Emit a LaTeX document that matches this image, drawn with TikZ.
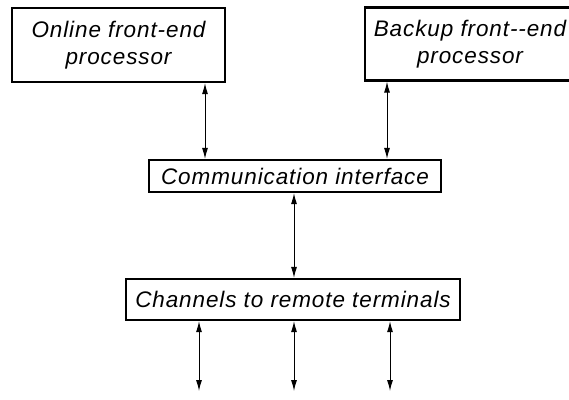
\documentclass[tikz,border=0pt]{standalone}
\usepackage{fontspec}
\setmainfont{Liberation Sans}[ItalicFont=* Italic, LetterSpace=4]
\usetikzlibrary{arrows.meta}
\tikzset{
  box/.style={draw, line width=2.2pt, rectangle, inner sep=0pt, align=center,
    font=\fontsize{22.5}{27}\selectfont\itshape},
  arr/.style={line width=1pt, {Latex[length=11pt,width=6pt]}-{Latex[length=11pt,width=6pt]}}
}
\begin{document}
\begin{tikzpicture}[x=1pt,y=-1pt]
\useasboundingbox (0,0) rectangle (569,399);
\clip (0,0) rectangle (569,399);
\node[box, minimum width=213pt, minimum height=74pt] (b1) at (118.5,45) {Online front-end\\processor};
\node[box, minimum width=210pt, minimum height=73pt] (b2) at (470,44) {Backup front-{}-end\\processor};
\node[box, minimum width=292pt, minimum height=32pt] (comm) at (295,176) {Communication interface};
\node[box, minimum width=334pt, minimum height=41pt] (chan) at (293,299.5) {Channels to remote terminals};
\coordinate (t1) at (199,391);
\coordinate (t2) at (294,391);
\coordinate (t3) at (390,391);
\draw[arr] (205,0 |- b1.south) -- (205,0 |- comm.north);
\draw[arr] (387,0 |- b2.south) -- (387,0 |- comm.north);
\draw[arr] (294,0 |- comm.south) -- (294,0 |- chan.north);
\draw[arr] (t1 |- chan.south) -- (t1);
\draw[arr] (t2 |- chan.south) -- (t2);
\draw[arr] (t3 |- chan.south) -- (t3);
\end{tikzpicture}
\end{document}
